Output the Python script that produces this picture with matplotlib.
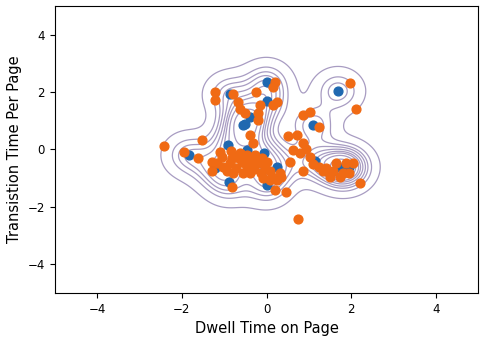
import numpy as np
import matplotlib.pyplot as plt

# points (x = dwell time, y = transition time)
blue_x = [0.0, 0.0, 1.69, -0.39, -0.51, 1.10, -0.90, -1.84, -0.06, 0.24, -1.22,
          0.00, -0.89, 1.14, 1.69, 1.80, -0.55, -0.86, 1.96, -0.47]
blue_y = [2.34, 1.67, 2.03, 1.13, 0.90, 0.84, 0.15, -0.20, -0.12, -0.62, -0.66,
          -1.24, -1.15, -0.40, -0.60, -0.66, 0.84, 1.92, -0.60, -0.02]

orange_x = [-2.43, -1.53, -1.96, -1.61, -1.29, -1.29, -1.06, -0.86, -0.71, -0.59,
            -0.47, -0.39, -0.31, -0.71, -0.94, -0.78, -0.55, -0.39, -0.24, -0.20,
            -0.04, 0.08, -0.08, 0.08, 0.24, 0.35, 0.20, 0.47, -0.82, -0.39,
            -0.31, 0.51, 0.71, 0.86, 0.63, 0.78, 0.94, 1.02, 0.86, 0.55,
            1.25, 1.41, 1.57, 1.73, 1.88, 2.04, 1.96, 2.20, 0.75, -1.18,
            -1.02, -0.51, -0.27, -0.63, -0.82, -0.12, 0.31, 1.49, 1.33, 1.80,
            1.65, -1.22, -1.22, -0.78, -0.67, -0.63, -0.51, -0.24, -0.16, -0.20,
            -0.20, 0.20, 0.16, 0.24, 0.16, 1.98, 2.12, 0.86, 1.02, 1.25,
            -0.84, -0.66, -0.45, -0.10, 0.02, -1.10, -0.60, -0.30, 0.12, 1.10]
orange_y = [0.12, 0.32, -0.08, -0.31, -0.43, -0.77, -0.25, -0.48, -0.25, -0.43,
            -0.20, -0.43, -0.60, -0.66, -0.77, -0.83, -0.83, -0.83, -0.37, -0.48,
            -0.66, -0.77, -1.00, -1.06, -1.06, -0.95, -1.41, -1.50, -1.32, 0.50,
            0.21, 0.46, 0.50, 0.21, -0.02, -0.14, 0.03, -0.25, -0.77, -0.43,
            -0.60, -0.66, -0.77, -0.95, -0.48, -0.48, -0.83, -1.18, -2.42, -0.48,
            -0.60, -0.48, -0.20, -0.14, -0.31, -0.83, -0.83, -0.95, -0.77, -0.83,
            -0.48, 2.00, 1.71, 1.94, 1.65, 1.42, 1.25, 2.00, 1.54, 1.25,
            1.02, 2.34, 2.17, 1.65, 1.54, 2.32, 1.42, 1.19, 1.30, 0.79,
            -0.05, -0.30, -0.60, -0.30, -0.45, -0.10, -0.15, -0.70, -0.95, -0.50]

# kde of the blue points: gaussian kernel, a bit taller than wide
pts = np.array([blue_x, blue_y])
sx, sy = 0.35, 0.46
gx, gy = np.meshgrid(np.linspace(-5, 5, 300), np.linspace(-5, 5, 300))
dx = (gx[..., None] - pts[0]) / sx
dy = (gy[..., None] - pts[1]) / sy
dens = np.exp(-0.5 * (dx * dx + dy * dy)).sum(axis=-1)

# iso-proportion levels, same rule seaborn uses
sv = np.sort(dens.ravel())[::-1]
cum = np.cumsum(sv) / sv.sum()
props = np.linspace(0.03, 1, 10)
lv = np.unique(np.take(sv, np.searchsorted(cum, 1 - props), mode='clip'))

fig, ax = plt.subplots(figsize=(4.85, 3.43), dpi=100)
fig.subplots_adjust(left=0.113, right=0.986, top=0.983, bottom=0.146)
ax.contour(gx, gy, dens, levels=lv, colors='#a89cc2', linewidths=0.9)
ax.scatter(blue_x, blue_y, s=40, color='#1f68b0', zorder=3)
ax.scatter(orange_x, orange_y, s=40, color='#f06a14', zorder=3)
ax.set_xlim(-5, 5)
ax.set_ylim(-5, 5)
ax.set_xticks([-4, -2, 0, 2, 4])
ax.set_yticks([-4, -2, 0, 2, 4])
ax.tick_params(labelsize=8.5)
ax.set_xlabel('Dwell Time on Page', fontsize=10.5)
ax.set_ylabel('Transistion Time Per Page', fontsize=10.5)
fig.savefig('out.png')
